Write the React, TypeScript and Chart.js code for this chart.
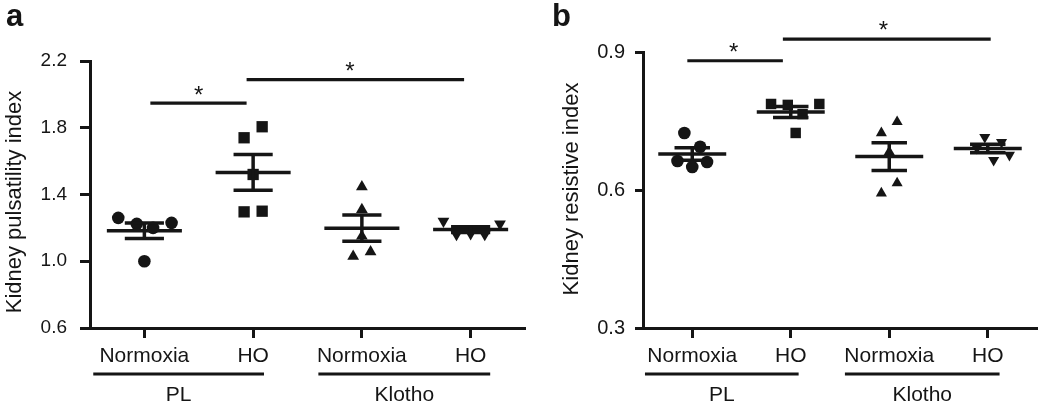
import React, { useEffect, useRef } from 'react';
import { Chart, registerables } from 'chart.js';

Chart.register(...registerables);

const FONT = '"Liberation Sans", Arial, Helvetica, sans-serif';
const INK = '#151515';

// ---------- data ----------
const categories = ['Normoxia', 'HO', 'Normoxia', 'HO'];
const groupLabels = ['PL', 'Klotho'];

const pulsatilityTicks = [0.6, 1.0, 1.4, 1.8, 2.2];
const resistiveTicks = [0.3, 0.6, 0.9];

// Panel a: Kidney pulsatility index
const pulsatilityPLNormoxia = [1.26, 1.224, 1.2, 1.23, 1.0];
const pulsatilityPLHO = [1.74, 1.806, 1.52, 1.296, 1.3];
const pulsatilityKlothoNormoxia = [1.446, 1.31, 1.03, 1.056, 1.15];
const pulsatilityKlothoHO = [1.24, 1.224, 1.16, 1.165, 1.16];
const pulsatilityJitter = [
  [-0.24, -0.07, 0.08, 0.25, 0],
  [-0.083, 0.083, 0, -0.083, 0.083],
  [0, 0, -0.08, 0.08, 0],
  [-0.25, 0.27, -0.13, 0, 0.13],
];

// Panel b: Kidney resistive index
const resistivePLNormoxia = [0.724, 0.694, 0.663, 0.65, 0.661];
const resistivePLHO = [0.787, 0.785, 0.787, 0.765, 0.724];
const resistiveKlothoNormoxia = [0.724, 0.748, 0.683, 0.593, 0.615];
const resistiveKlothoHO = [0.715, 0.704, 0.691, 0.665, 0.676];
const resistiveJitter = [
  [-0.08, 0.08, -0.15, 0, 0.15],
  [-0.2, -0.03, 0.29, 0.12, 0.05],
  [-0.08, 0.08, 0, -0.08, 0.08],
  [-0.03, 0.14, -0.11, 0.06, 0.22],
];

// significance brackets (category units / value units)
const pulsatilitySignificance = [
  { from: 0.055, to: 0.94, level: 1.948, starX: 0.5, starLevel: 2.034 },
  { from: 0.94, to: 2.94, level: 2.088, starX: 1.89, starLevel: 2.178 },
];
const resistiveSignificance = [
  { from: -0.05, to: 0.92, level: 0.881, starX: 0.42, starLevel: 0.913 },
  { from: 0.92, to: 3.03, level: 0.928, starX: 1.94, starLevel: 0.961 },
];

const markerStyles = ['circle', 'rect', 'triangle', 'triangle'];
const markerRotations = [0, 0, 0, 180];

// ---------- overlay plugin ----------
const overlayPlugin = {
  id: 'overlay',
  afterDatasetsDraw(chart: any, _args: any, opts: any) {
    const { ctx } = chart;
    const xs = chart.scales.x;
    const ys = chart.scales.y;
    ctx.save();
    ctx.strokeStyle = INK;
    ctx.lineWidth = 3.5;
    ctx.lineCap = 'butt';
    const seg = (x1: number, y1: number, x2: number, y2: number) => {
      ctx.beginPath();
      ctx.moveTo(x1, y1);
      ctx.lineTo(x2, y2);
      ctx.stroke();
    };
    chart.data.datasets.forEach((ds: any, c: number) => {
      const vals = ds.data.map((p: any) => p.y);
      const n = vals.length;
      const mean = vals.reduce((a: number, b: number) => a + b, 0) / n;
      const sd = Math.sqrt(vals.reduce((a: number, b: number) => a + (b - mean) ** 2, 0) / (n - 1));
      const sem = sd / Math.sqrt(n);
      const ym = ys.getPixelForValue(mean);
      const yh = ys.getPixelForValue(mean + sem);
      const yl = ys.getPixelForValue(mean - sem);
      seg(xs.getPixelForValue(c - opts.meanHalf), ym, xs.getPixelForValue(c + opts.meanHalf), ym);
      seg(xs.getPixelForValue(c - opts.semHalf), yh, xs.getPixelForValue(c + opts.semHalf), yh);
      seg(xs.getPixelForValue(c - opts.semHalf), yl, xs.getPixelForValue(c + opts.semHalf), yl);
      seg(xs.getPixelForValue(c), yh, xs.getPixelForValue(c), yl);
    });
    ctx.restore();
  },
  afterDraw(chart: any, _args: any, opts: any) {
    const { ctx, chartArea } = chart;
    const xs = chart.scales.x;
    const ys = chart.scales.y;
    ctx.save();
    ctx.strokeStyle = INK;
    ctx.fillStyle = INK;
    ctx.lineWidth = 3.2;
    const seg = (x1: number, y1: number, x2: number, y2: number) => {
      ctx.beginPath();
      ctx.moveTo(x1, y1);
      ctx.lineTo(x2, y2);
      ctx.stroke();
    };
    // significance bars
    ctx.textAlign = 'center';
    ctx.textBaseline = 'alphabetic';
    ctx.font = `24px ${FONT}`;
    opts.sig.forEach((s: any) => {
      const y = ys.getPixelForValue(s.level);
      seg(xs.getPixelForValue(s.from), y, xs.getPixelForValue(s.to), y);
      ctx.fillText('*', xs.getPixelForValue(s.starX), ys.getPixelForValue(s.starLevel) + 14);
    });
    // group lines + labels
    ctx.font = `21px ${FONT}`;
    const gy = chartArea.bottom + 46;
    opts.groups.forEach((g: any, i: number) => {
      const x1 = xs.getPixelForValue(g[0]);
      const x2 = xs.getPixelForValue(g[1]);
      seg(x1, gy, x2, gy);
      ctx.fillText(groupLabels[i], (x1 + x2) / 2, chartArea.bottom + 73);
    });
    // y title
    ctx.save();
    ctx.font = `22px ${FONT}`;
    ctx.translate(opts.titleX, opts.titleY);
    ctx.rotate(-Math.PI / 2);
    ctx.textAlign = 'center';
    ctx.textBaseline = 'alphabetic';
    ctx.fillText(opts.title, 0, 0);
    ctx.restore();
    // panel letter
    ctx.font = `bold 31px ${FONT}`;
    ctx.textAlign = 'left';
    ctx.fillText(opts.letter, opts.letterX, 26);
    ctx.restore();
  },
};

type PanelSpec = {
  values: number[][];
  jitter: number[][];
  ticks: number[];
  radii: number[];
  axisLeft: number;
  top: number;
  right: number;
  tickFont: number;
  tickLen: number;
  tickPad: number;
  overlay: any;
};

function makeConfig(p: PanelSpec): any {
  return {
    type: 'scatter',
    data: {
      datasets: p.values.map((vals, c) => ({
        label: categories[c],
        data: vals.map((v, k) => ({ x: c + p.jitter[c][k], y: v })),
        pointStyle: markerStyles[c],
        pointRotation: markerRotations[c],
        pointRadius: p.radii[c],
        pointBackgroundColor: INK,
        pointBorderColor: INK,
        pointBorderWidth: 0,
        clip: false,
      })),
    },
    plugins: [overlayPlugin],
    options: {
      responsive: false,
      animation: false,
      layout: { padding: { top: p.top, right: p.right, left: 0, bottom: 0 } },
      plugins: {
        legend: { display: false },
        tooltip: { enabled: false },
        overlay: p.overlay,
      },
      scales: {
        x: {
          type: 'linear',
          min: -0.5,
          max: 3.5,
          afterBuildTicks: (s: any) => {
            s.ticks = categories.map((_, i) => ({ value: i }));
          },
          afterFit: (s: any) => {
            s.height = 78;
          },
          ticks: {
            callback: (v: any) => categories[Math.round(Number(v))],
            font: { size: 21, family: FONT },
            color: INK,
            padding: 6,
            maxRotation: 0,
            autoSkip: false,
          },
          grid: {
            drawOnChartArea: false,
            drawTicks: true,
            tickLength: 10,
            tickWidth: 3,
            tickColor: INK,
            color: INK,
          },
          border: { display: true, width: 3, color: INK },
        },
        y: {
          type: 'linear',
          min: p.ticks[0],
          max: p.ticks[p.ticks.length - 1],
          afterBuildTicks: (s: any) => {
            s.ticks = p.ticks.map((v) => ({ value: v }));
          },
          afterFit: (s: any) => {
            s.width = p.axisLeft;
          },
          ticks: {
            callback: (v: any) => Number(v).toFixed(1),
            font: { size: p.tickFont, family: FONT },
            color: INK,
            padding: p.tickPad,
          },
          grid: {
            drawOnChartArea: false,
            drawTicks: true,
            tickLength: p.tickLen,
            tickWidth: 3,
            tickColor: INK,
            color: INK,
          },
          border: { display: true, width: 3, color: INK },
        },
      },
    },
  };
}

const panelA: PanelSpec = {
  values: [pulsatilityPLNormoxia, pulsatilityPLHO, pulsatilityKlothoNormoxia, pulsatilityKlothoHO],
  jitter: pulsatilityJitter,
  ticks: pulsatilityTicks,
  radii: [6.3, 8, 6.8, 6.8],
  axisLeft: 90,
  top: 61,
  right: 10,
  tickFont: 19,
  tickLen: 10,
  tickPad: 13,
  overlay: {
    meanHalf: 0.345,
    semHalf: 0.18,
    sig: pulsatilitySignificance,
    groups: [
      [-0.47, 1.1],
      [1.6, 3.18],
    ],
    title: 'Kidney pulsatility index',
    titleX: 21,
    titleY: 202,
    letter: 'a',
    letterX: 6,
  },
};

const panelB: PanelSpec = {
  values: [resistivePLNormoxia, resistivePLHO, resistiveKlothoNormoxia, resistiveKlothoHO],
  jitter: resistiveJitter,
  ticks: resistiveTicks,
  radii: [6.3, 7.4, 6.4, 6.4],
  axisLeft: 108,
  top: 52,
  right: 13,
  tickFont: 20,
  tickLen: 8,
  tickPad: 10,
  overlay: {
    meanHalf: 0.345,
    semHalf: 0.18,
    sig: resistiveSignificance,
    groups: [
      [-0.48, 1.08],
      [1.55, 3.12],
    ],
    title: 'Kidney resistive index',
    titleX: 43,
    titleY: 189,
    letter: 'b',
    letterX: 17,
  },
};

function Panel({ spec, left, width }: { spec: PanelSpec; left: number; width: number }) {
  const ref = useRef<HTMLCanvasElement>(null);
  useEffect(() => {
    const chart = new Chart(ref.current as HTMLCanvasElement, makeConfig(spec));
    return () => chart.destroy();
  }, [spec]);
  return (
    <canvas
      ref={ref}
      width={width}
      height={406}
      style={{ position: 'absolute', left, top: 0, width, height: 406, display: 'block' }}
    />
  );
}

export default function App() {
  return (
    <div style={{ position: 'fixed', left: 0, top: 0, width: 1050, height: 406, background: '#fff' }}>
      <Panel spec={panelA} left={0} width={535} />
      <Panel spec={panelB} left={535} width={515} />
    </div>
  );
}
